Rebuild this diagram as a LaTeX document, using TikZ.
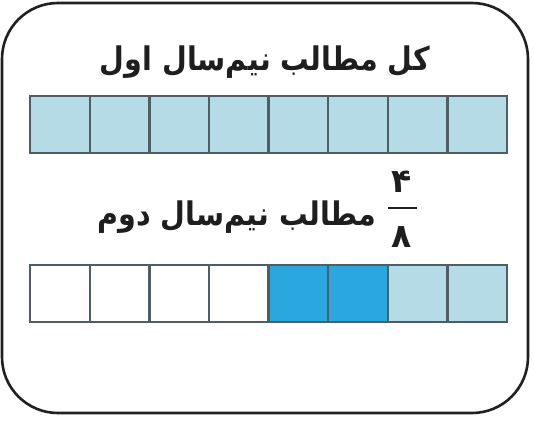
\documentclass[tikz,border=0pt]{standalone}
\usepackage{fontspec}
\TeXXeTstate=1
\newfontfamily\arabicfont[Script=Arabic, FakeStretch=0.88]{DejaVu Sans}
\newfontfamily\digitfont[Script=Arabic]{DejaVu Sans}
\definecolor{lightcell}{HTML}{B5DCE6}
\definecolor{darkcell}{HTML}{2BA7E0}
\definecolor{cellline}{HTML}{4E5E64}
\definecolor{framecol}{HTML}{202020}
\definecolor{textcol}{HTML}{1E1E1E}
\tikzset{
  cellbox/.style={draw=cellline, line width=2.3pt, minimum width=59.6pt, minimum height=57pt, inner sep=0pt, anchor=north west},
  title/.style={font=\arabicfont\bfseries\fontsize{32.5}{38}\selectfont, text=textcol, inner sep=0pt},
  digit/.style={font=\digitfont\bfseries\fontsize{33}{40}\selectfont, text=textcol, inner sep=0pt}
}
\begin{document}
\begin{tikzpicture}[x=1pt,y=-1pt]
\useasboundingbox (0,0) rectangle (534,447);
\draw[draw=framecol, line width=2.6pt, rounded corners=56pt] (2,3) rectangle (528,413);
\node[title] (t1) at (265,62) {\beginR کل مطالب نیم‌سال اول\endR};
\foreach \i in {1,...,8} {
  \node[cellbox, fill=lightcell] (a\i) at ({29+59.6*(\i-1)},95) {};
}
\node[title] (t2) at (237,217) {\beginR مطالب نیم‌سال دوم\endR};
\node[digit] (n4) at (402,182) {۴};
\node[digit] (n8) at (402,237) {۸};
\coordinate (fl) at (388,208);
\coordinate (fr) at (417,208);
\draw[draw=textcol, line width=2.4pt] (fl) -- (fr);
\foreach \i/\c in {1/white,2/white,3/white,4/white,5/darkcell,6/darkcell,7/lightcell,8/lightcell} {
  \node[cellbox, fill=\c] (b\i) at ({29+59.6*(\i-1)},264) {};
}
\end{tikzpicture}
\end{document}
